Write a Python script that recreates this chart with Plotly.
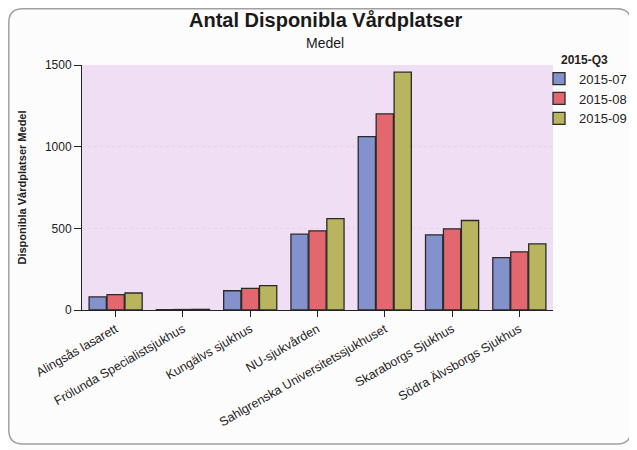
import plotly.graph_objects as go

categories = ["Alingsås lasarett", "Frölunda Specialistsjukhus", "Kungälvs sjukhus",
              "NU-sjukvården", "Sahlgrenska Universitetssjukhuset", "Skaraborgs Sjukhus",
              "Södra Älvsborgs Sjukhus"]
series_names = ["2015-07", "2015-08", "2015-09"]
v_2015_07 = [80, 2, 118, 464, 1061, 460, 321]
v_2015_08 = [94, 3, 133, 485, 1201, 497, 356]
v_2015_09 = [104, 4, 149, 560, 1456, 548, 405]
colors = ["#8391cc", "#e2676f", "#b9b55e"]

# the page places the figure 8px in from the top-left corner; layout in figure px
OFF = 8
L, R, T, B = 82 - OFF, 553 - OFF, 65 - OFF, 310 - OFF
W, H = 637, 450
pw, ph = R - L, B - T


def px(x):
    return (x - L) / pw


def py(y):
    return (B - y) / ph


fig = go.Figure()
for name, vals, col in zip(series_names, [v_2015_07, v_2015_08, v_2015_09], colors):
    fig.add_trace(go.Bar(x=categories, y=vals, name=name,
                         marker=dict(color=col, line=dict(color="#2a2a2a", width=1.3))))

# rounded card border
x0, x1, y0, y1, r = 0.8, 623, 0.8, 436, 14
rx, ry = r / pw, r / ph
card = (f"M {px(x0)+rx},{py(y0)} L {px(x1)-rx},{py(y0)} Q {px(x1)},{py(y0)} {px(x1)},{py(y0)-ry} "
        f"L {px(x1)},{py(y1)+ry} Q {px(x1)},{py(y1)} {px(x1)-rx},{py(y1)} "
        f"L {px(x0)+rx},{py(y1)} Q {px(x0)},{py(y1)} {px(x0)},{py(y1)+ry} "
        f"L {px(x0)},{py(y0)-ry} Q {px(x0)},{py(y0)} {px(x0)+rx},{py(y0)} Z")

fig.update_layout(
    width=W, height=H,
    margin=dict(l=L, r=W - R, t=T, b=H - B, autoexpand=False),
    paper_bgcolor="#fdfcfd",
    plot_bgcolor="#f0def5",
    font=dict(family="Liberation Sans, Arial, sans-serif", color="#222222"),
    barmode="group", bargap=0.2, bargroupgap=0.04,
    showlegend=True,
    legend=dict(title=dict(text="\u00a0" * 6 + "<b>2015-Q3</b>", font=dict(size=12)),
                x=px(531), xanchor="left", y=py(40), yanchor="top",
                font=dict(size=13), bgcolor="rgba(0,0,0,0)",
                itemwidth=30, tracegroupgap=0),
    xaxis=dict(tickangle=-30, tickfont=dict(size=12.5), showline=True, linecolor="#222222",
               linewidth=1, ticks="outside", ticklen=6, tickcolor="#222222",
               showgrid=False),
    yaxis=dict(range=[0, 1500], tickvals=[0, 500, 1000, 1500], tickfont=dict(size=12),
               showline=True, linecolor="#222222", linewidth=1, ticks="outside",
               ticklen=7, tickcolor="#222222", showgrid=True, gridcolor="#e3d5e8",
               griddash="dot", zeroline=False,
               title=dict(text="<b>Disponibla Vårdplatser Medel</b>", font=dict(size=11),
                          standoff=16)),
    annotations=[
        dict(text="<b>Antal Disponibla Vårdplatser</b>", xref="paper", yref="paper",
             x=px(318), y=py(12), xanchor="center", yanchor="middle", showarrow=False,
             font=dict(size=20, color="#1a1a1a")),
        dict(text="Medel", xref="paper", yref="paper",
             x=px(317), y=py(35), xanchor="center", yanchor="middle", showarrow=False,
             font=dict(size=14, color="#1a1a1a")),
    ],
    shapes=[dict(type="path", xref="paper", yref="paper", path=card,
                 line=dict(color="#a0a0a0", width=1.5), layer="below")],
)

fig.write_html("out.html")
